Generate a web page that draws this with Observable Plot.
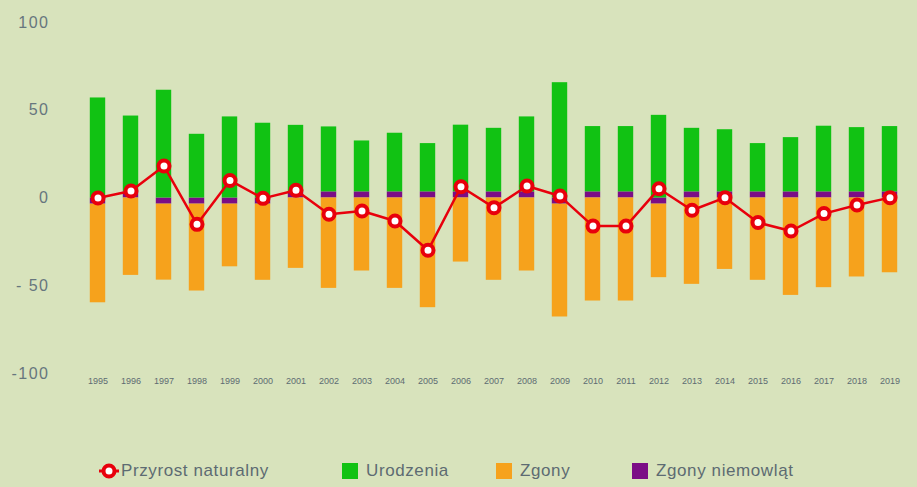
<!DOCTYPE html>
<html>
<head>
<meta charset="utf-8">
<script src="https://cdn.jsdelivr.net/npm/d3@7"></script>
<script src="https://cdn.jsdelivr.net/npm/@observablehq/plot@0.6"></script>
<style>
  html, body { margin: 0; padding: 0; background: #d8e3bc; }
  body { width: 917px; height: 487px; position: relative; overflow: hidden; font-family: "Liberation Sans", Arial, sans-serif; }
  #chart svg { display: block; }
  #chart svg [aria-label="y-axis tick label"] text { letter-spacing: 1.5px; }
  .lg { position: absolute; top: 461px; display: flex; align-items: center; font-size: 17px; color: #5d6b72; letter-spacing: 0.6px; white-space: nowrap; }
  .sw { display: inline-block; width: 16px; height: 16px; margin-right: 8px; }
</style>
</head>
<body>
<div id="chart"></div>
<div class="lg" style="left:99px">
  <svg width="20" height="20" style="margin-right:2px"><line x1="0" y1="10" x2="20" y2="10" stroke="#e8000c" stroke-width="3"/><circle cx="10" cy="10" r="5.5" fill="#fff" stroke="#e8000c" stroke-width="4"/></svg>
  <span>Przyrost naturalny</span>
</div>
<div class="lg" style="left:342px"><span class="sw" style="background:#11c213"></span><span>Urodzenia</span></div>
<div class="lg" style="left:496px"><span class="sw" style="background:#f6a21c"></span><span>Zgony</span></div>
<div class="lg" style="left:632px"><span class="sw" style="background:#7b0d86"></span><span>Zgony niemowląt</span></div>
<script>
const years = ["1995","1996","1997","1998","1999","2000","2001","2002","2003","2004","2005","2006","2007","2008","2009","2010","2011","2012","2013","2014","2015","2016","2017","2018","2019"];
const urodzenia = [57, 43.2, 61.4, 36.3, 46.2, 42.6, 37.9, 37, 29, 33.4, 27.5, 38, 36.2, 42.7, 65.7, 37.2, 37.2, 47.1, 36.2, 35.4, 27.5, 30.9, 37.4, 36.6, 37.2];
const zgony = [-56.2, -44.1, -43.3, -49.5, -35.7, -43.4, -40.1, -51.5, -41.6, -51.5, -62.5, -36.5, -46.9, -41.6, -64.3, -58.7, -58.7, -41.9, -49.2, -40.7, -46.9, -55.5, -51.1, -45, -42.6];
const zgonyNiemowlat = [-3.5, 3.5, -3.5, -3.5, -3.5, -3.5, 3.5, 3.5, 3.5, 3.5, 3.5, 3.5, 3.5, 3.5, -3.5, 3.5, 3.5, -3.5, 3.5, 3.5, 3.5, 3.5, 3.5, 3.5, 3.5];
const przyrost = [0, 4, 18.2, -15, 10, -0.2, 4.4, -9.3, -7.4, -13.1, -29.8, 6.4, -5.5, 6.8, 1.1, -16, -16, 5.3, -7, 0.2, -14, -18.8, -8.9, -4, 0.2];
const yTicks = [100, 50, 0, -50, -100];
const yTickLabels = ["100", "50", "0", "- 50", "-100"];

const seriesNames = ["Zgony niemowląt", "Urodzenia", "Zgony"];
const seriesColors = ["#7b0d86", "#11c213", "#f6a21c"];

const bars = [];
years.forEach((y, i) => {
  bars.push({year: y, series: "Zgony niemowląt", value: zgonyNiemowlat[i]});
  bars.push({year: y, series: "Urodzenia", value: urodzenia[i]});
  bars.push({year: y, series: "Zgony", value: zgony[i]});
});
const line = years.map((y, i) => ({year: y, value: przyrost[i]}));

const chart = Plot.plot({
  width: 917,
  height: 400,
  marginTop: 22,
  marginBottom: 27,
  marginLeft: 73,
  marginRight: 4,
  style: {background: "transparent", fontFamily: "'Liberation Sans', Arial, sans-serif"},
  x: {domain: years, padding: 0, label: null},
  y: {domain: [-100, 100], label: null},
  color: {domain: seriesNames, range: seriesColors},
  marks: [
    Plot.axisY({ticks: yTicks, tickFormat: (d) => yTickLabels[yTicks.indexOf(d)], tickSize: 0, tickPadding: 24, fontSize: 16, color: "#66767e", label: null}),
    Plot.axisX({tickSize: 0, tickPadding: 4, fontSize: 9, color: "#5d6b72", label: null}),
    Plot.barY(bars, Plot.stackY({order: seriesNames}, {x: "year", y: "value", fill: "series", insetLeft: 8.8, insetRight: 8.8})),
    Plot.line(line, {x: "year", y: "value", stroke: "#e8000c", strokeWidth: 2.5}),
    Plot.dot(line, {x: "year", y: "value", r: 5.5, fill: "#fff", stroke: "#e8000c", strokeWidth: 4})
  ]
});
document.getElementById("chart").appendChild(chart);
</script>
</body>
</html>
